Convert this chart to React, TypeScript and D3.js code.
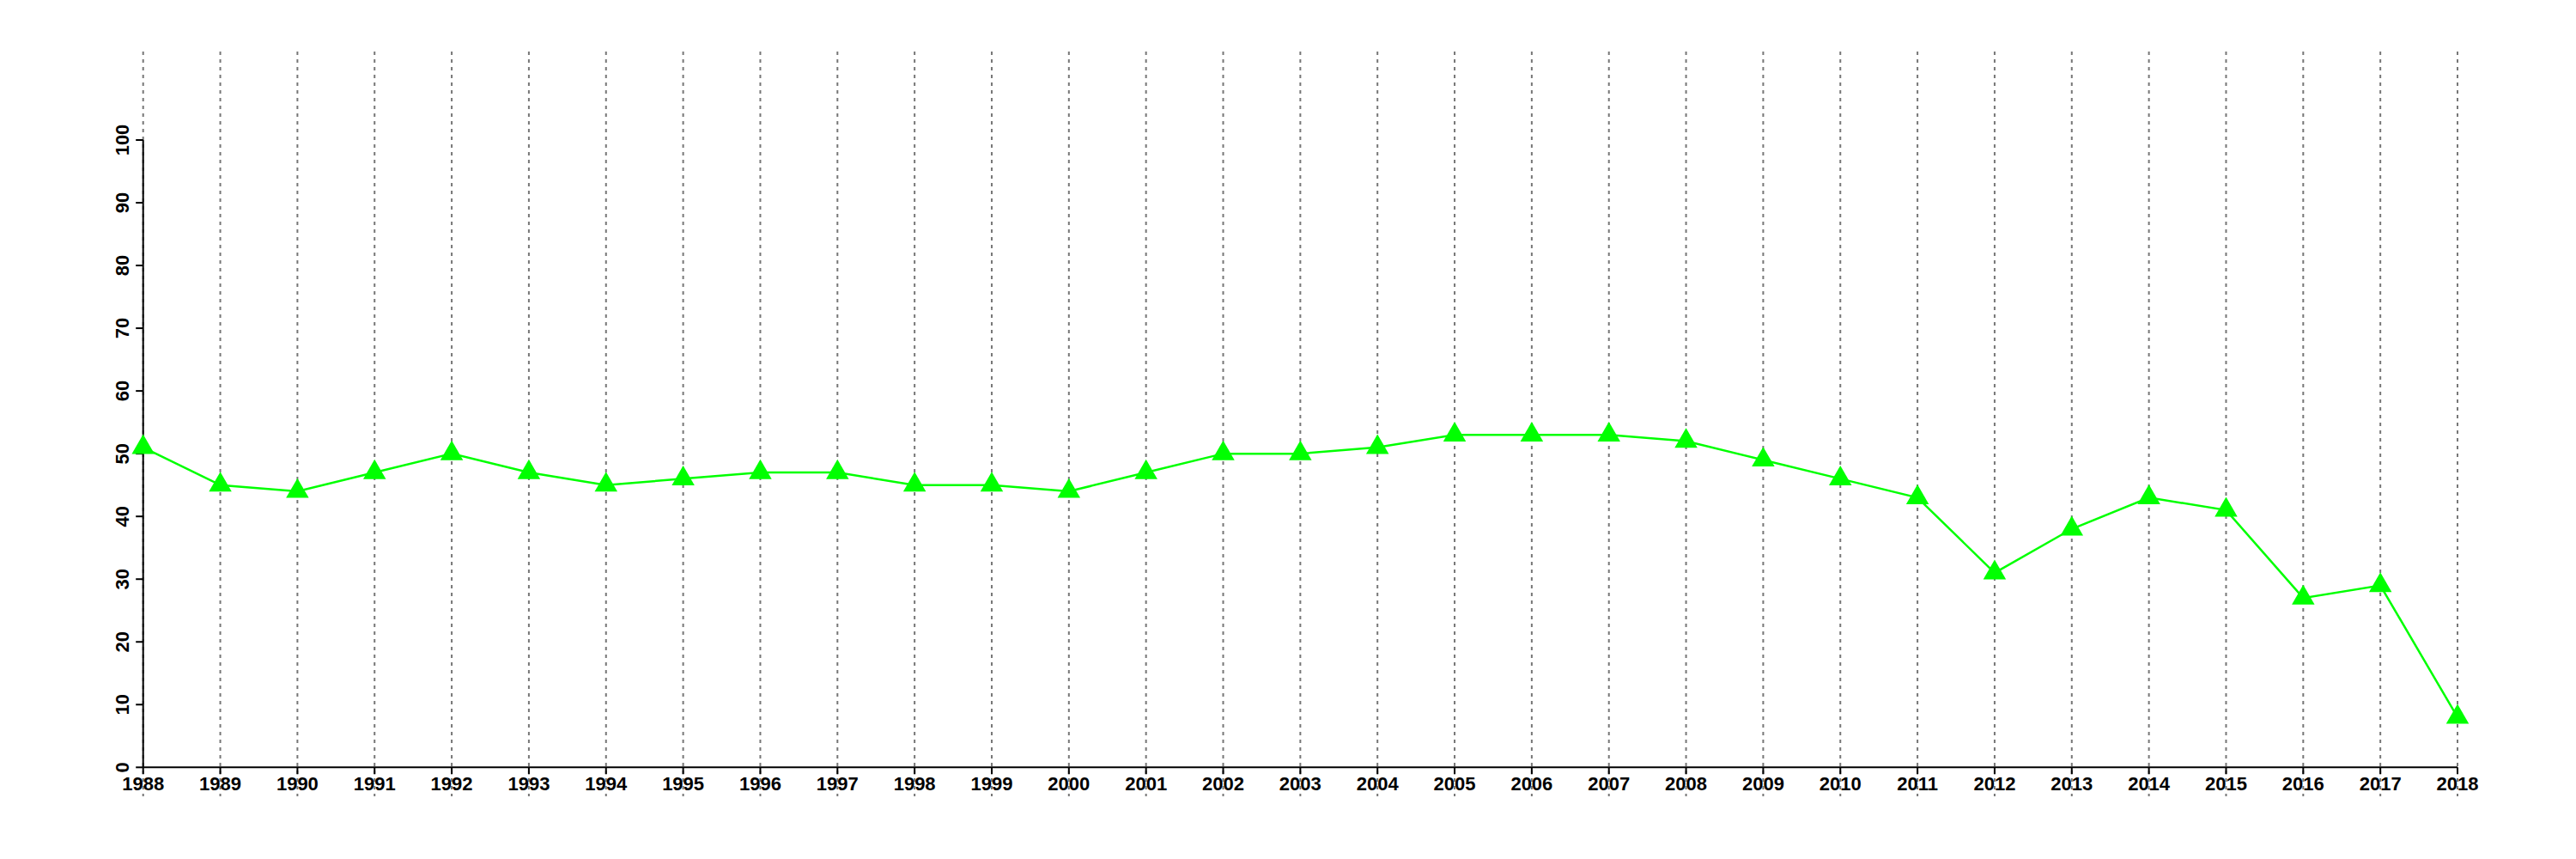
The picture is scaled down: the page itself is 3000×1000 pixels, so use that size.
import React from "react";
import * as d3 from "d3";

const years: number[] = [1988,1989,1990,1991,1992,1993,1994,1995,1996,1997,1998,1999,2000,2001,2002,2003,2004,2005,2006,2007,2008,2009,2010,2011,2012,2013,2014,2015,2016,2017,2018];
const values: number[] = [51,45,44,47,50,47,45,46,47,47,45,45,44,47,50,50,51,53,53,53,52,49,46,43,31,38,43,41,27,29,8];
const yTicks: number[] = [0,10,20,30,40,50,60,70,80,90,100];

const W = 3000;
const H = 1000;
const left = 166.7;
const right = 2862;
const top = 163;
const bottom = 893.3;
const gridTop = 60;
const gridBottom = 927;

export default function App() {
  const x = d3.scaleLinear().domain([1988, 2018]).range([left, right]);
  const y = d3.scaleLinear().domain([0, 100]).range([bottom, top]);
  const line = d3.line<number>().x((_, i) => x(years[i])).y((d) => y(d));
  const r = 15.3;
  const xc = r * Math.sqrt(3) / 2;
  const tri = `M0,${-r}L${xc},${r / 2}L${-xc},${r / 2}Z`;
  const font = "'Liberation Sans', Arial, Helvetica, sans-serif";
  return (
    <svg width={W} height={H} style={{ position: "absolute", left: 0, top: 0, background: "#fff" }} fontFamily={font}>
      <rect x={0} y={0} width={W} height={H} fill="#fff" />
      {years.map((yr) => (
        <line key={"g" + yr} x1={x(yr)} x2={x(yr)} y1={gridTop} y2={gridBottom} stroke="#777" strokeWidth={2} strokeDasharray="4,5" />
      ))}
      <line x1={left} x2={left} y1={y(0)} y2={y(100)} stroke="#000" strokeWidth={2} />
      {yTicks.map((t) => (
        <g key={"y" + t}>
          <line x1={left - 8.5} x2={left} y1={y(t)} y2={y(t)} stroke="#000" strokeWidth={2} />
          <text transform={`translate(150,${y(t)}) rotate(-90)`} textAnchor="middle" fontSize={22} fontWeight="bold">{t}</text>
        </g>
      ))}
      <line x1={left} x2={right} y1={bottom} y2={bottom} stroke="#000" strokeWidth={2} />
      {years.map((yr) => (
        <g key={"x" + yr}>
          <line x1={x(yr)} x2={x(yr)} y1={bottom} y2={bottom + 8} stroke="#000" strokeWidth={2} />
          <text x={x(yr)} y={920} textAnchor="middle" fontSize={22} fontWeight="bold">{yr}</text>
        </g>
      ))}
      <path d={line(values) || ""} fill="none" stroke="#00ff00" strokeWidth={2.5} />
      {values.map((v, i) => (
        <path key={"p" + i} d={tri} transform={`translate(${x(years[i])},${y(v)})`} fill="#00ff00" />
      ))}
    </svg>
  );
}
